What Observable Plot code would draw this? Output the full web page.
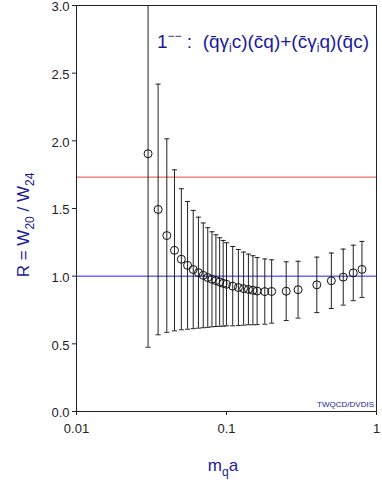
<!DOCTYPE html>
<html><head><meta charset="utf-8">
<script src="https://cdn.jsdelivr.net/npm/d3@7"></script>
<script src="https://cdn.jsdelivr.net/npm/@observablehq/plot@0.6"></script>
<style>body{margin:0;background:#fff}</style>
</head><body><div id="c"></div>
<script>
const mass  = [0.03,0.035,0.04,0.045,0.05,0.055,0.06,0.065,0.07,0.075,0.08,0.085,0.09,0.095,0.1,0.11,0.12,0.13,0.14,0.15,0.16,0.18,0.2,0.25,0.3,0.4,0.5,0.6,0.7,0.8];
const ratio = [1.905,1.493,1.30,1.191,1.125,1.080,1.049,1.026,1.006,0.990,0.977,0.967,0.957,0.947,0.940,0.926,0.916,0.908,0.902,0.896,0.890,0.886,0.887,0.889,0.900,0.936,0.966,0.993,1.024,1.050];
const error = [1.43,0.926,0.715,0.595,0.521,0.472,0.437,0.410,0.387,0.368,0.351,0.339,0.327,0.317,0.307,0.293,0.281,0.270,0.261,0.255,0.248,0.241,0.234,0.217,0.210,0.205,0.205,0.207,0.205,0.207];
const xTicks = [0.01,0.1,1];
const yTicks = [0,0.5,1,1.5,2,2.5,3];
const refLines = [{v:1.732,c:"#e04848"},{v:1,c:"#1f1fff"}];

const data = mass.map((m,i)=>({m, r:ratio[i], lo:ratio[i]-error[i], hi:ratio[i]+error[i]}));
const cap = {draw(ctx){ctx.moveTo(-2.5,0);ctx.lineTo(2.5,0);}};

const chart = Plot.plot({
  width:382, height:491,
  marginLeft:76, marginRight:6, marginTop:5, marginBottom:80,
  style:{fontFamily:"'Liberation Sans', Arial, sans-serif", fontSize:"13px", color:"#222", background:"#fff"},
  x:{type:"log", domain:[0.01,1], label:null},
  y:{domain:[0,3], label:null},
  marks:[
    Plot.axisX({ticks:xTicks, tickFormat:d=>String(d), tickSize:4, tickPadding:8, label:null}),
    Plot.axisY({ticks:yTicks, tickFormat:()=>"", tickSize:4, label:null}),
    Plot.axisY({ticks:yTicks, tickFormat:d=>d.toFixed(1), tickSize:0, tickPadding:7, dy:1.5, label:null}),
    Plot.ruleY(refLines,{y:"v", stroke:"c", strokeWidth:1}),
    Plot.ruleX(data,{x:"m", y1:"lo", y2:"hi", stroke:"#222", strokeWidth:1, clip:true}),
    Plot.dot(data,{x:"m", y:"hi", symbol:cap, stroke:"#222", strokeWidth:1, clip:true}),
    Plot.dot(data,{x:"m", y:"lo", symbol:cap, stroke:"#222", strokeWidth:1, clip:true}),
    Plot.dot(data,{x:"m", y:"r", r:4, stroke:"#111", fill:"none", strokeWidth:1}),
    Plot.frame({stroke:"#222"})
  ]
});
document.getElementById("c").appendChild(chart);

const svg = d3.select(chart);
const navy = "#1a1a99";
const ff = "'Liberation Sans', Arial, sans-serif";
// title
const t = svg.append("text").attr("x",369).attr("y",48).attr("text-anchor","end")
  .attr("fill",navy).style("font-size","19px").style("font-family",ff);
t.append("tspan").text("1");
t.append("tspan").attr("dy",-8).style("font-size","12px").text("\u2212\u2212");
t.append("tspan").attr("dy",8).text(" :  (q\u0304\u03b3");
t.append("tspan").attr("dy",4).style("font-size","12px").text("i");
t.append("tspan").attr("dy",-4).text("c)(c\u0304q)+(c\u0304\u03b3");
t.append("tspan").attr("dy",4).style("font-size","12px").text("i");
t.append("tspan").attr("dy",-4).text("q)(q\u0304c)");
// x label
const xl = svg.append("text").attr("x",223).attr("y",471).attr("text-anchor","middle")
  .attr("fill",navy).style("font-size","17px").style("font-family",ff);
xl.append("tspan").text("m");
xl.append("tspan").attr("dy",5).style("font-size","12px").text("q");
xl.append("tspan").attr("dy",-5).text("a");
// y label
const yl = svg.append("text").attr("transform","translate(29,225) rotate(-90)").attr("text-anchor","middle")
  .attr("fill",navy).style("font-size","17px").style("font-family",ff);
yl.append("tspan").text("R = W");
yl.append("tspan").attr("dy",5).style("font-size","12px").text("20");
yl.append("tspan").attr("dy",-5).text(" / W");
yl.append("tspan").attr("dy",5).style("font-size","12px").text("24");
// credit
svg.append("text").attr("x",374).attr("y",407).attr("text-anchor","end").attr("fill",navy)
  .style("font-size","8px").style("font-family",ff).text("TWQCD/DVDIS");
</script></body></html>
